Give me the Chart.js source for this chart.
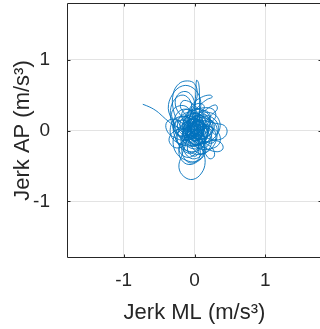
<!DOCTYPE html>
<html>
<head>
<meta charset="utf-8">
<script src="https://cdn.jsdelivr.net/npm/chart.js@4/dist/chart.umd.min.js"></script>
<style>
html,body{margin:0;padding:0;overflow:hidden;background:#fff;}
canvas{display:block;}
</style>
</head>
<body>
<canvas id="c" width="324" height="329" style="width:324px;height:329px"></canvas>
<script>
const tickValues = [-1, 0, 1];
const xTitle = 'Jerk ML (m/s³)';
const yTitle = 'Jerk AP (m/s³)';

const jerkML = [
-0.73,-0.63,-0.53,-0.45,-0.37,-0.27,-0.16,-0.05,0.06,0.13,
0.11,0.01,-0.11,-0.17,-0.10,0.03,0.15,0.20,0.15,0.02,
-0.13,-0.23,-0.30,-0.37,-0.31,-0.17,-0.02,0.08,0.07,-0.02,
-0.10,-0.05,0.08,0.18,0.16,0.05,-0.07,-0.09,0.00,0.12,
0.22,0.24,0.16,0.02,-0.12,-0.22,-0.24,-0.16,-0.04,0.06,
0.05,0.02,0.01,0.02,0.03,0.06,0.07,0.07,0.06,0.00,
-0.12,-0.24,-0.30,-0.22,-0.08,0.06,0.14,0.12,0.00,-0.12,
-0.17,-0.10,0.03,0.17,0.30,0.42,0.46,0.40,0.27,0.12,
0.00,-0.10,-0.20,-0.27,-0.24,-0.12,-0.02,0.00,-0.05,-0.13,
-0.19,-0.15,-0.04,0.09,0.15,0.10,-0.01,-0.10,-0.12,-0.18,
-0.22,-0.15,-0.02,0.10,0.15,0.12,0.05,0.00,0.03,0.12,
0.22,0.26,0.20,0.08,-0.04,-0.10,-0.06,0.05,0.12,0.10,
0.00,-0.14,-0.28,-0.38,-0.40,-0.32,-0.20,-0.08,0.02,0.10,
0.20,0.25,0.20,0.08,-0.05,-0.17,-0.24,-0.20,-0.08,0.05,
0.12,0.10,0.02,0.08,0.18,0.25,0.22,0.10,-0.02,-0.10,
-0.14,-0.10,0.00,0.10,0.12,0.05,-0.04,-0.06,0.02,0.14,
0.28,0.38,0.40,0.32,0.18,0.04,-0.08,-0.18,-0.20,-0.12,
0.00,0.08,0.06,-0.04,-0.16,-0.26,-0.32,-0.34,-0.28,-0.16,
-0.06,-0.04,-0.08,-0.06,0.04,0.16,0.22,0.18,0.06,-0.06,
-0.12,-0.08,0.02,0.08,0.06,-0.04,-0.14,-0.18,-0.14,-0.04,
0.06,0.14,0.16,0.08,-0.04,-0.12,-0.10,0.00,0.12,0.22,
0.30,0.34,0.28,0.14,0.00,-0.10,-0.16,-0.12,0.00,0.12,
0.18,0.14,0.04,-0.06,-0.10,-0.04,0.06,0.10,0.04,-0.04,
-0.08,-0.16,-0.28,-0.36,-0.30,-0.18,-0.06,0.04,0.10,0.16,
0.22,0.28,0.26,0.16,0.04,-0.02,0.00,0.08,0.14,0.10,
0.00,-0.08,-0.10,-0.04,0.06,0.12,0.08,-0.02,-0.06,-0.02,
0.06,0.14,0.24,0.32,0.30,0.20,0.08,-0.04,-0.14,-0.22,
-0.30,-0.30,-0.22,-0.10,0.00,0.04,0.00,-0.06,-0.06,0.00,0.06,
0.10,0.14,0.10,0.00,-0.10,-0.16,-0.14,-0.06,0.04,0.10,
0.08,0.00,-0.08,-0.10,-0.04,0.04,0.06,0.02,-0.04,-0.06,
-0.12,-0.20,-0.26,-0.24,-0.16,-0.08,-0.02,0.06,0.14,0.20,
0.22,0.18,0.10,0.02,-0.04,-0.06,-0.02,0.06,0.14,0.16,
0.12,0.04,-0.04,-0.10,-0.16,-0.18,-0.12,-0.04,0.00,-0.02,
-0.06,-0.04,0.02,0.06,0.02,-0.06,-0.10,-0.08,-0.02,0.06,
0.14,0.20,0.22,0.16,0.08,0.04,0.04,0.08,0.16,0.24,
0.28,0.24,0.14,0.06,0.00,-0.08,-0.18,-0.26,-0.28,-0.22,
-0.12,-0.04,0.00,-0.02,-0.10,-0.18,-0.22,-0.18,-0.08,0.02,
0.06,0.04,0.00,0.04,0.12,0.18,0.18,0.12,0.04,-0.02,
-0.04,0.00,0.08,0.14,0.12,0.04,-0.04,-0.08,-0.06,0.02,
0.10,0.12,0.06,-0.02,-0.10,-0.14,-0.10,-0.02,0.08,0.12,
0.08,0.00,-0.04,0.00,0.08,0.10,0.04,
0.10,0.22,0.30,0.26,0.12,-0.02,-0.16,-0.26,-0.30,-0.28,
-0.20,-0.08,0.06,0.18,0.28,0.32,0.30,0.20,0.06,-0.08,
-0.20,-0.28,-0.30,-0.24,-0.12,0.00,0.10,0.14,0.10,0.02,
-0.06,-0.14,-0.20,-0.16,-0.06,0.04,0.14,0.26,0.34,0.36,
0.30,0.20,0.06,-0.08,-0.22,-0.32,-0.34,-0.28,-0.16,-0.04,
0.06,0.12,0.16,0.14,0.04,-0.08,-0.18,-0.22,-0.18,-0.08,
0.04,0.16,0.28,0.36,0.34,0.22,0.08,-0.04,-0.12,-0.16,
-0.12,-0.02,0.10,0.20,0.22,0.16,0.04,-0.10,-0.22,-0.30,
-0.32,-0.24,-0.12,-0.04,0.00,0.06,0.14,0.24,0.30,0.28,
0.18,0.06,-0.06,-0.14,-0.16,-0.10,0.00,0.10,0.14,0.08,
0.00,-0.08,-0.12,-0.06,0.04,0.08,0.04
];
const jerkAP = [
0.37,0.33,0.27,0.20,0.13,0.06,0.03,0.07,0.13,0.05,
-0.07,-0.12,-0.06,0.07,0.20,0.24,0.15,0.01,-0.14,-0.22,
-0.18,-0.05,0.12,0.31,0.51,0.63,0.60,0.45,0.26,0.10,
-0.04,-0.17,-0.20,-0.10,0.05,0.12,0.05,-0.09,-0.28,-0.33,
-0.24,-0.08,0.08,0.16,0.12,0.00,-0.15,-0.28,-0.32,-0.22,
-0.06,0.12,0.35,0.56,0.71,0.66,0.48,0.28,0.08,-0.06,
-0.10,-0.06,0.05,0.14,0.12,0.02,-0.10,-0.22,-0.26,-0.20,
-0.06,0.08,0.14,0.13,0.10,0.07,-0.02,-0.11,-0.13,-0.08,
0.00,0.10,0.22,0.36,0.50,0.55,0.46,0.30,0.14,0.02,
-0.12,-0.25,-0.30,-0.26,-0.14,-0.02,0.02,-0.05,-0.18,-0.35,
-0.52,-0.65,-0.69,-0.60,-0.45,-0.30,-0.16,-0.02,0.12,0.20,
0.16,0.04,-0.08,-0.12,-0.08,0.04,0.16,0.20,0.12,-0.02,
-0.10,-0.14,-0.10,-0.02,0.10,0.16,0.12,0.02,-0.10,-0.18,
-0.14,0.00,0.14,0.22,0.26,0.22,0.10,-0.03,-0.08,-0.04,
0.06,0.18,0.28,0.36,0.44,0.47,0.50,0.47,0.38,0.24,
0.08,-0.06,-0.14,-0.10,0.02,0.09,0.06,-0.04,-0.12,-0.16,
-0.14,-0.18,-0.26,-0.30,-0.26,-0.18,-0.10,0.00,0.12,0.20,
0.18,0.08,-0.04,-0.12,-0.12,-0.04,0.10,0.28,0.44,0.50,
0.42,0.28,0.14,0.00,-0.08,-0.04,0.08,0.20,0.26,0.20,
0.06,-0.08,-0.16,-0.28,-0.40,-0.46,-0.40,-0.26,-0.12,-0.04,
0.02,0.00,-0.10,-0.18,-0.18,-0.08,0.06,0.12,0.10,0.02,
-0.06,0.04,0.16,0.22,0.20,0.12,0.00,-0.14,-0.20,-0.16,
-0.04,0.10,0.14,0.08,-0.04,-0.14,-0.12,-0.02,0.06,0.02,
-0.10,-0.22,-0.24,-0.14,-0.02,0.02,-0.02,-0.10,-0.22,-0.34,
-0.40,-0.36,-0.26,-0.18,-0.08,0.04,0.16,0.26,0.32,0.38,
0.36,0.26,0.12,0.00,-0.06,0.02,0.12,0.10,0.00,-0.08,
0.00,0.10,0.22,0.30,0.36,0.32,0.22,0.10,0.02,0.10,
0.30,0.52,0.66,0.70,0.66,0.52,0.36,0.20,0.04,-0.08,-0.14,
-0.08,0.02,0.12,0.16,0.12,0.02,-0.10,-0.16,-0.14,-0.04,
0.06,0.10,0.06,-0.04,-0.10,-0.06,0.04,0.08,0.04,-0.06,
-0.16,-0.20,-0.14,-0.04,0.02,0.00,-0.08,-0.18,-0.24,-0.20,
-0.10,0.00,0.06,0.04,-0.02,0.08,0.18,0.22,0.18,0.08,
-0.02,-0.06,-0.02,0.06,0.14,0.24,0.30,0.28,0.20,0.10,
0.00,-0.10,-0.20,-0.30,-0.36,-0.34,-0.26,-0.16,-0.08,-0.02,
0.04,0.12,0.22,0.28,0.26,0.16,0.06,-0.04,-0.08,-0.04,
0.06,0.14,0.14,0.08,0.00,-0.06,-0.08,-0.02,0.08,0.18,
0.20,0.14,0.04,-0.06,-0.12,-0.16,-0.26,-0.34,-0.38,-0.32,
-0.22,-0.12,-0.04,0.04,0.08,0.04,-0.06,-0.12,-0.12,-0.06,
0.04,0.12,0.16,0.10,0.00,-0.04,0.00,0.10,0.22,0.30,
0.28,0.18,0.10,0.06,0.00,-0.08,-0.18,-0.22,-0.18,-0.10,
-0.02,0.00,-0.04,-0.10,-0.10,-0.02,0.04,
0.00,0.10,0.20,0.30,0.32,0.28,0.30,0.22,0.08,-0.08,
-0.22,-0.30,-0.34,-0.30,-0.20,-0.06,0.08,0.16,0.18,0.14,
0.06,-0.06,-0.20,-0.34,-0.42,-0.44,-0.38,-0.26,-0.12,0.00,
0.12,0.24,0.34,0.42,0.40,0.32,0.26,0.24,0.16,0.04,
-0.08,-0.16,-0.20,-0.22,-0.18,-0.10,0.04,0.16,0.20,0.16,
0.06,-0.06,-0.20,-0.34,-0.44,-0.48,-0.42,-0.30,-0.16,-0.06,
0.02,0.06,0.02,-0.08,-0.20,-0.26,-0.26,-0.18,-0.06,0.08,
0.22,0.30,0.30,0.22,0.10,-0.02,-0.08,-0.06,0.02,0.14,
0.26,0.34,0.34,0.24,0.10,-0.04,-0.14,-0.18,-0.12,0.00,
0.08,0.08,0.02,-0.10,-0.24,-0.36,-0.40,-0.34,-0.22,-0.10,
-0.02,0.06,0.16,0.24,0.22,0.12,0.02
];

const points = jerkML.map((x, i) => ({x: x, y: jerkAP[i]}));
const TXT = '#262626';
const FONT = "'Liberation Sans', Arial, Helvetica, sans-serif";

const boxPlugin = {
  id: 'boxPlugin',
  afterDraw(chart) {
    const {ctx, chartArea: a, scales} = chart;
    ctx.save();
    ctx.strokeStyle = TXT;
    ctx.lineWidth = 1;
    const L = Math.round(a.left) + 0.5, T = Math.round(a.top) + 0.5;
    const R = Math.round(a.right) - 0.5, B = Math.round(a.bottom) - 0.5;
    ctx.beginPath();
    ctx.moveTo(L, B); ctx.lineTo(L, T); ctx.lineTo(R, T); ctx.lineTo(R, B); ctx.lineTo(L, B);
    ctx.stroke();
    const len = 3;
    ctx.beginPath();
    tickValues.forEach(v => {
      const px = Math.round(scales.x.getPixelForValue(v)) + 0.5;
      ctx.moveTo(px, B); ctx.lineTo(px, B - len);
      ctx.moveTo(px, T); ctx.lineTo(px, T + len);
      const py = Math.round(scales.y.getPixelForValue(v)) + 0.5;
      ctx.moveTo(L, py); ctx.lineTo(L + len, py);
      ctx.moveTo(R, py); ctx.lineTo(R - len, py);
    });
    ctx.stroke();
    ctx.restore();
  }
};

function axis(title, isX) {
  return {
    type: 'linear',
    min: -1.8, max: 1.8,
    afterBuildTicks(scale) { scale.ticks = tickValues.map(v => ({value: v})); },
    afterFit(scale) {
      if (isX) { scale.height = 71; scale.paddingLeft = 0; scale.paddingRight = 0; }
      else { scale.width = 67; scale.paddingTop = 0; scale.paddingBottom = 0; }
    },
    grid: { color: '#e3e3e3', lineWidth: 1, drawTicks: false },
    border: { display: false },
    ticks: {
      color: TXT,
      font: { family: FONT, size: 19 },
      padding: isX ? 11 : 17,
      callback: v => String(v)
    },
    title: {
      display: true,
      text: title,
      color: TXT,
      font: { family: FONT, size: 22 },
      padding: isX ? { top: 0, bottom: 3 } : { top: 10, bottom: 0 }
    }
  };
}

new Chart(document.getElementById('c'), {
  type: 'scatter',
  data: {
    datasets: [{
      data: points,
      showLine: true,
      borderColor: '#0072BD',
      borderWidth: 0.9,
      pointRadius: 0,
      tension: 0.4,
      fill: false
    }]
  },
  options: {
    responsive: false,
    animation: false,
    devicePixelRatio: 1,
    layout: { padding: { top: 3, right: 2, left: 0, bottom: 0 } },
    plugins: { legend: { display: false }, tooltip: { enabled: false } },
    scales: { x: axis(xTitle, true), y: axis(yTitle, false) }
  },
  plugins: [boxPlugin]
});
</script>
</body>
</html>
